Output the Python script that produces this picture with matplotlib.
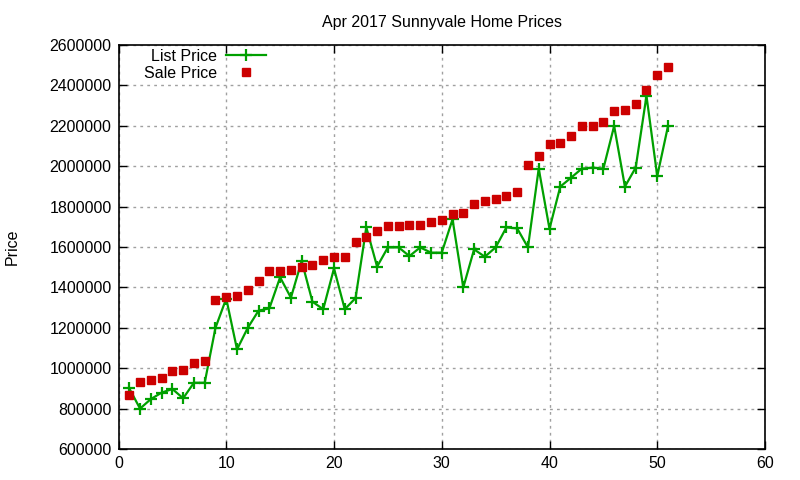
import matplotlib
matplotlib.use("Agg")
import matplotlib.pyplot as plt
from matplotlib.ticker import MultipleLocator

plt.rcParams['font.family'] = ['Liberation Sans', 'DejaVu Sans']

x_vals = list(range(1, 52))
list_price = [900000, 800000, 847000, 879000, 897000, 851000, 928000, 928000, 1200000, 1345000,
              1093000, 1200000, 1285000, 1296000, 1450000, 1349000, 1531000, 1329000, 1292000, 1494000,
              1292000, 1347000, 1697000, 1503000, 1598000, 1598000, 1555000, 1598000, 1572000, 1572000,
              1737000, 1400000, 1588000, 1552000, 1598000, 1697000, 1692000, 1598000, 1988000, 1690000,
              1899000, 1943000, 1988000, 1993000, 1988000, 2199000, 1899000, 1993000, 2348000, 1951000,
              2199000]
sale_price = [867000, 933000, 941000, 953000, 986000, 991000, 1027000, 1036000, 1338000, 1354000,
              1359000, 1387000, 1433000, 1483000, 1483000, 1488000, 1502000, 1512000, 1537000, 1552000,
              1552000, 1626000, 1651000, 1681000, 1705000, 1705000, 1710000, 1710000, 1725000, 1735000,
              1765000, 1770000, 1814000, 1829000, 1839000, 1854000, 1874000, 2007000, 2052000, 2109000,
              2114000, 2149000, 2199000, 2199000, 2219000, 2273000, 2278000, 2308000, 2377000, 2453000,
              2491000]

title = "Apr 2017 Sunnyvale Home Prices"
ylabel = "Price"

fig = plt.figure(figsize=(8, 4.8), dpi=100)
ax = fig.add_axes([118.5/800, 1-449/480, (765-118.5)/800, (449-45)/480])

ax.plot(x_vals, list_price, color='#00a000', lw=1.6, marker='+', ms=9, mew=1.6, label='List Price')
ax.plot(x_vals, sale_price, color='#cc0000', lw=0, marker='s', ms=6, label='Sale Price')

ax.set_xlim(0, 60)
ax.set_ylim(600000, 2600000)
ax.xaxis.set_major_locator(MultipleLocator(10))
ax.yaxis.set_major_locator(MultipleLocator(200000))
ax.ticklabel_format(style='plain', axis='y', useOffset=False)
ax.grid(True, color='#a0a0a0', linestyle=(0, (2, 3)), lw=1)
ax.set_axisbelow(True)
ax.tick_params(direction='in', top=True, right=True, length=6, width=1, labelsize=11.5, colors='black', pad=5)
for s in ax.spines.values():
    s.set_linewidth(1.2)

ax.set_title(title, fontsize=11.5, pad=13)
ax.set_ylabel(ylabel, fontsize=11.5, labelpad=21)

leg = ax.legend(loc='upper left', bbox_to_anchor=(0.024, 1.014), frameon=False, markerfirst=False,
                fontsize=11.5, handlelength=2.5, labelspacing=0.12, handletextpad=0.6, borderaxespad=0.2)

fig.savefig('out.png', dpi=100)
